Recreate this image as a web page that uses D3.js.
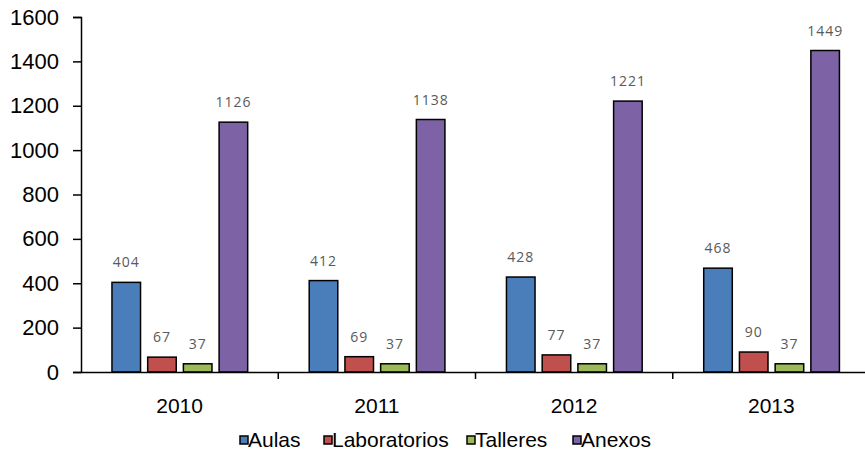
<!DOCTYPE html>
<html>
<head>
<meta charset="utf-8">
<script src="https://cdn.jsdelivr.net/npm/d3@7"></script>
<style>
  body { margin: 0; background: #fff; }
  svg { display: block; }
</style>
</head>
<body>
<script>
// data
var years = ["2010", "2011", "2012", "2013"];
var series = ["Aulas", "Laboratorios", "Talleres", "Anexos"];
var aulas = [404, 412, 428, 468];
var laboratorios = [67, 69, 77, 90];
var talleres = [37, 37, 37, 37];
var anexos = [1126, 1138, 1221, 1449];
var yTicks = [0, 200, 400, 600, 800, 1000, 1200, 1400, 1600];
var colors = ["#4a7ebb", "#c0504d", "#9bbb59", "#7d62a6"];

var values = [aulas, laboratorios, talleres, anexos];

var W = 865, H = 453;
var plotLeft = 81, plotRight = 870, plotTop = 17, plotBottom = 372;

var svg = d3.select("body").append("svg")
    .attr("width", W).attr("height", H);

var x0 = d3.scaleBand().domain(years).range([plotLeft, plotRight]).padding(0);
var bw = x0.bandwidth();
var x1 = d3.scaleBand().domain(series)
    .range([bw * 0.157, bw * 0.845]).paddingInner(0.2);
var y = d3.scaleLinear().domain([0, 1600]).range([plotBottom, plotTop]);

// bars
var groups = svg.append("g").selectAll("g")
    .data(years).enter().append("g")
    .attr("transform", function(d) { return "translate(" + x0(d) + ",0)"; });

groups.selectAll("rect")
    .data(function(d, i) {
        return series.map(function(s, j) { return { s: s, v: values[j][i], j: j }; });
    })
    .enter().append("rect")
    .attr("x", function(d) { return x1(d.s); })
    .attr("y", function(d) { return y(d.v); })
    .attr("width", x1.bandwidth())
    .attr("height", function(d) { return y(0) - y(d.v); })
    .attr("fill", function(d) { return colors[d.j]; })
    .attr("stroke", "#000")
    .attr("stroke-width", 1.5);

// data labels
groups.selectAll("text")
    .data(function(d, i) {
        return series.map(function(s, j) { return { s: s, v: values[j][i] }; });
    })
    .enter().append("text")
    .attr("x", function(d) { return x1(d.s) + x1.bandwidth() / 2; })
    .attr("y", function(d) { return y(d.v) - 15; })
    .attr("text-anchor", "middle")
    .style("font-family", "'Open Sans', sans-serif")
    .style("font-size", "14px")
    .style("letter-spacing", "1px")
    .attr("fill", "#595959")
    .text(function(d) { return d.v; });

// y axis
var yAxis = svg.append("g")
    .attr("transform", "translate(" + plotLeft + ",0)")
    .call(d3.axisLeft(y).tickValues(yTicks).tickFormat(d3.format("d"))
        .tickSize(8).tickPadding(14));
yAxis.selectAll("line").attr("stroke", "#000").attr("stroke-width", 1.5);
yAxis.select(".domain").attr("stroke", "#000").attr("stroke-width", 1.5);
yAxis.selectAll("text")
    .style("font-family", "Arial, 'Liberation Sans', sans-serif")
    .style("font-size", "22px")
    .attr("fill", "#000");

// x axis: labels centred, ticks at the band boundaries
var xAxis = svg.append("g")
    .attr("transform", "translate(0," + plotBottom + ")")
    .call(d3.axisBottom(x0).tickSize(0).tickPadding(26).tickSizeOuter(0));
xAxis.select(".domain").attr("stroke", "#000").attr("stroke-width", 1.5);
xAxis.selectAll("text")
    .style("font-family", "Arial, 'Liberation Sans', sans-serif")
    .style("font-size", "21px")
    .attr("fill", "#000");

xAxis.selectAll(".bound")
    .data(years.slice(1))
    .enter().append("line")
    .attr("class", "bound")
    .attr("x1", function(d) { return x0(d); })
    .attr("x2", function(d) { return x0(d); })
    .attr("y1", 0).attr("y2", 7)
    .attr("stroke", "#000").attr("stroke-width", 1.5);

// legend
var legendX = [240, 324, 467, 573];
var legend = svg.append("g").selectAll("g")
    .data(series).enter().append("g")
    .attr("transform", function(d, i) { return "translate(" + legendX[i] + ",436)"; });
legend.append("rect")
    .attr("width", 8).attr("height", 8)
    .attr("fill", function(d, i) { return colors[i]; })
    .attr("stroke", "#000").attr("stroke-width", 1.5);
legend.append("text")
    .attr("x", 8).attr("y", 11)
    .style("font-family", "Arial, 'Liberation Sans', sans-serif")
    .style("font-size", "21px")
    .attr("fill", "#000")
    .text(function(d) { return d; });
</script>
</body>
</html>
